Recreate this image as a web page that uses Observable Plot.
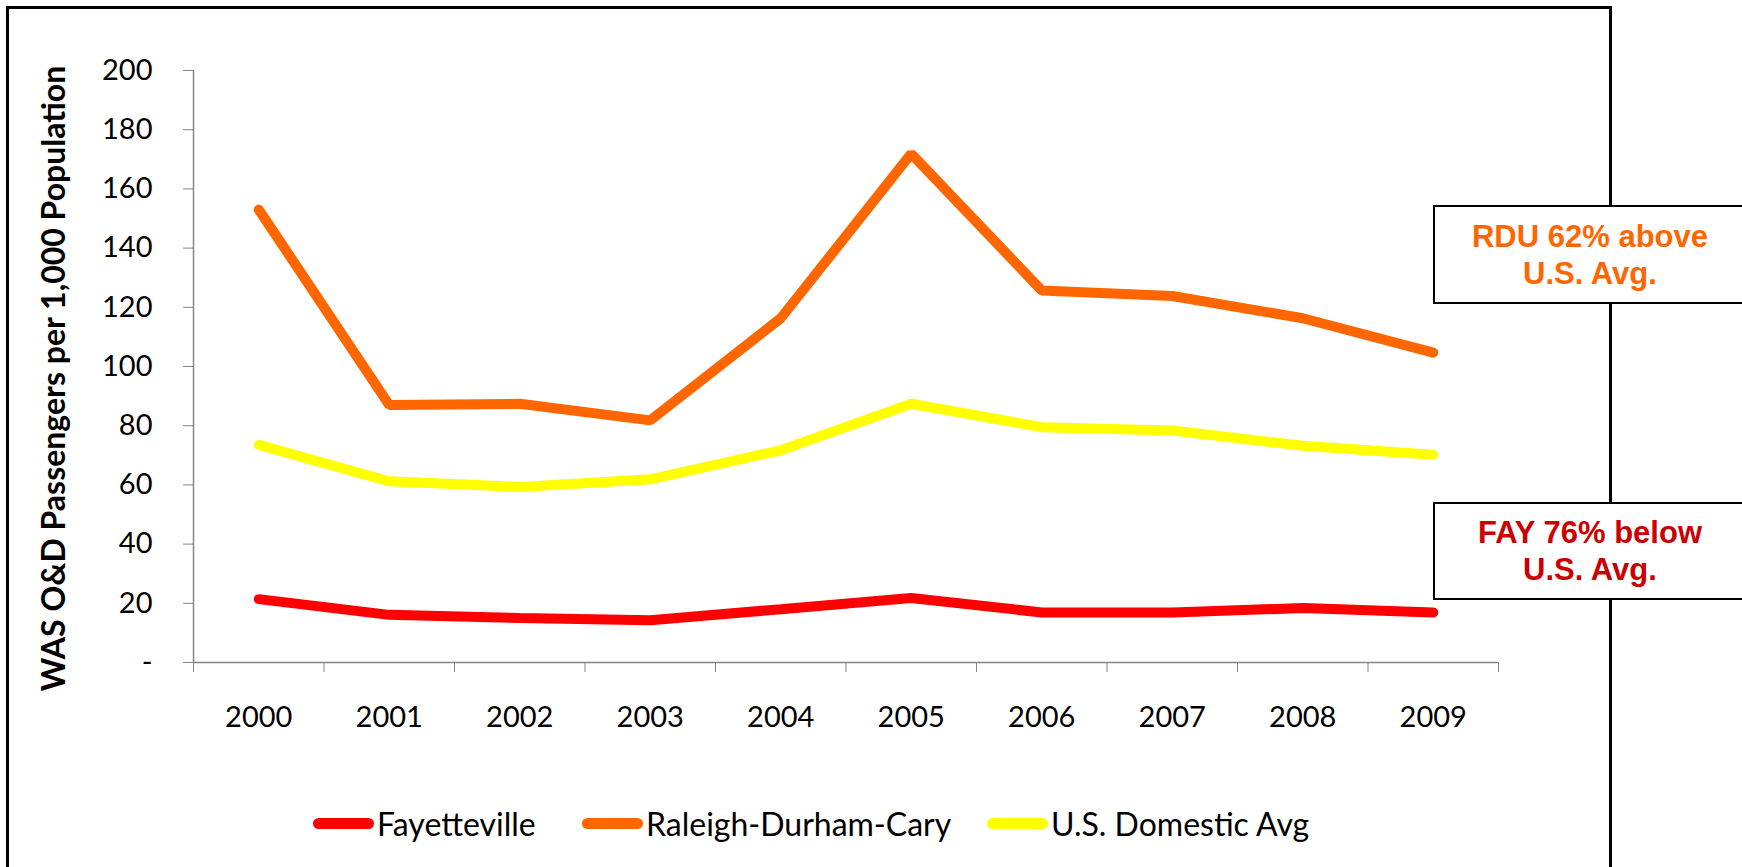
<!DOCTYPE html>
<html>
<head>
<meta charset="utf-8">
<script src="https://cdn.jsdelivr.net/npm/d3@7"></script>
<script src="https://cdn.jsdelivr.net/npm/@observablehq/plot@0.6"></script>
<style>
  html, body { margin: 0; padding: 0; background: #fff; }
  #root { position: relative; width: 1742px; height: 867px; overflow: hidden; background: #fff; }
  #frame { position: absolute; left: 6px; top: 6px; width: 1606px; height: 1000px; border: 3px solid #000; box-sizing: border-box; }
  #chart { position: absolute; left: 0; top: 0; }
  .item { position: absolute; top: 803px; height: 40px; display: flex; align-items: center; font-family: Lato, sans-serif; font-size: 32px; color: #000; white-space: nowrap; }
  .sw { width: 61px; height: 11px; border-radius: 6px; margin-right: 3px; }
  .note { position: absolute; left: 1433px; width: 314px; box-sizing: border-box; border: 2px solid #000; background: #fff; text-align: center; font-family: "Liberation Sans", Arial, sans-serif; font-weight: bold; font-size: 31px; line-height: 37px; }
</style>
</head>
<body>
<div id="root">
  <div id="frame"></div>
  <div id="chart"></div>
</div>
<script>
// ---- data ----
const years = [2000, 2001, 2002, 2003, 2004, 2005, 2006, 2007, 2008, 2009];
const fayetteville = [21.4, 16.1, 15.0, 14.3, 18.0, 21.8, 16.9, 16.9, 18.4, 16.9];
const raleigh = [153.0, 87.0, 87.4, 81.8, 116.3, 171.9, 125.7, 123.8, 116.3, 104.7];
const usAvg = [73.5, 61.2, 59.3, 61.9, 71.7, 87.4, 79.5, 78.4, 73.2, 70.2];
const seriesNames = ["Fayetteville", "Raleigh-Durham-Cary", "U.S. Domestic Avg"];
const seriesColors = ["#FF0000", "#FF6600", "#FFFF00"];
const yTicks = [0, 20, 40, 60, 80, 100, 120, 140, 160, 180, 200];
const yTitle = "WAS O&D Passengers per 1,000 Population";
const noteTexts = [["RDU 62% above", "U.S. Avg."], ["FAY 76% below", "U.S. Avg."]];
const noteColors = ["#FF6600", "#CC0000"];

// ---- table ----
const seriesValues = [fayetteville, raleigh, usAvg];
const rows = [];
seriesNames.forEach((name, i) => {
  years.forEach((yr, j) => rows.push({series: name, year: yr, value: seriesValues[i][j]}));
});
const boundaries = years.map(y => y - 0.5).concat([years[years.length - 1] + 0.5]);

const chart = Plot.plot({
  width: 1742,
  height: 760,
  marginLeft: 193,
  marginRight: 244,
  marginTop: 70,
  marginBottom: 98,
  style: {background: "transparent", fontFamily: "Lato, sans-serif", fontSize: "29px", overflow: "visible"},
  x: {type: "linear", domain: [boundaries[0], boundaries[boundaries.length - 1]]},
  y: {domain: [0, 200]},
  color: {domain: seriesNames, range: seriesColors},
  marks: [
    Plot.ruleX([boundaries[0]], {stroke: "#868686", strokeWidth: 1.5}),
    Plot.ruleY([0], {stroke: "#868686", strokeWidth: 1.5}),
    Plot.axisY({ticks: yTicks, tickSize: 10, tickPadding: 31, tickFormat: d => d === 0 ? "-" : String(d),
      stroke: "#868686", fill: "#000", fontSize: 29, label: null}),
    Plot.axisX({ticks: boundaries, tickSize: 10, tickFormat: () => "", stroke: "#868686", label: null}),
    Plot.axisX({ticks: years, tickSize: 0, tickPadding: 44, tickFormat: d => String(d), fill: "#000", fontSize: 29, label: null}),
    Plot.line(rows, {x: "year", y: "value", z: "series", stroke: "series", strokeWidth: 10,
      strokeLinecap: "round", strokeLinejoin: "miter"}),
    Plot.text([yTitle], {text: d => d, frameAnchor: "left", textAnchor: "middle", dx: -139, dy: 12, rotate: -90,
      fontWeight: "bold", fontSize: 32, fill: "#000"})
  ]
});
document.getElementById("chart").appendChild(chart);

// ---- legend ----
const root = document.getElementById("root");
const legendLefts = [313, 582, 987];
seriesNames.forEach((name, i) => {
  const item = document.createElement("div");
  item.className = "item";
  item.style.left = legendLefts[i] + "px";
  const sw = document.createElement("div");
  sw.className = "sw";
  sw.style.background = seriesColors[i];
  const tx = document.createElement("span");
  tx.textContent = name;
  item.appendChild(sw);
  item.appendChild(tx);
  root.appendChild(item);
});

// ---- annotation boxes ----
const noteTops = [205, 502];
const noteHeights = [99, 98];
const notePads = [11, 10];
noteTexts.forEach((lines, i) => {
  const box = document.createElement("div");
  box.className = "note";
  box.style.top = noteTops[i] + "px";
  box.style.height = noteHeights[i] + "px";
  box.style.paddingTop = notePads[i] + "px";
  box.style.color = noteColors[i];
  lines.forEach(l => {
    const d = document.createElement("div");
    d.textContent = l;
    box.appendChild(d);
  });
  root.appendChild(box);
});
</script>
</body>
</html>
